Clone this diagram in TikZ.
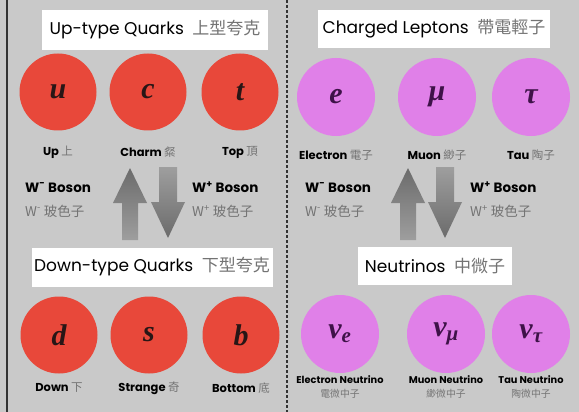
\documentclass[tikz,border=0pt]{standalone}
\usepackage{fontspec}
\setmainfont{Poppins}
\newfontfamily\cjk{Noto Sans CJK TC}
\newfontfamily\symfont{Liberation Serif}
\definecolor{bggray}{RGB}{201,201,201}
\definecolor{quarkred}{RGB}{232,72,58}
\definecolor{leptonpink}{RGB}{224,128,232}
\definecolor{quarkink}{RGB}{40,22,22}
\definecolor{leptonink}{RGB}{62,18,72}
\newcommand{\zh}[1]{{\cjk\mdseries\color{black!55}#1}}
\begin{document}
\begin{tikzpicture}[x=1pt, y=-1pt,
    quark/.style={circle, fill=quarkred, minimum size=77pt, inner sep=0pt, text=quarkink,
      font=\symfont\bfseries\itshape\fontsize{30}{30}\selectfont},
    lepton/.style={circle, fill=leptonpink, minimum size=78pt, inner sep=0pt, text=leptonink,
      font=\symfont\bfseries\itshape\fontsize{30}{30}\selectfont},
    caption/.style={font=\bfseries\fontsize{11.5}{14}\selectfont, align=center, inner sep=0pt},
    nucaption/.style={caption, font=\bfseries\fontsize{9.8}{14}\selectfont},
    titlebox/.style={fill=white, inner sep=0pt, font=\fontsize{17}{20}\selectfont},
    boson/.style={anchor=west, align=left, inner sep=0pt, font=\bfseries\fontsize{13.5}{24}\selectfont},
    wshade/.style={top color=black!58, bottom color=black!38}]
  \useasboundingbox (0,0) rectangle (579,412);
  \fill[bggray] (0,0) rectangle (579,412);
  \fill[black!80] (6,0) rectangle (8,412);
  \draw[black!80, line width=1.2pt, dash pattern=on 3pt off 2pt] (287,0) -- (287,412);

  % family headers
  \node[titlebox, minimum width=226pt, minimum height=40pt] (uphead) at (155,30)
    {Up-type Quarks\enspace\zh{上型夸克}};
  \node[titlebox, minimum width=232pt, minimum height=38pt] (lephead) at (434,29)
    {Charged Leptons\enspace\zh{帶電輕子}};
  \node[titlebox, minimum width=241pt, minimum height=39pt] (downhead) at (152,267)
    {Down-type Quarks\enspace\zh{下型夸克}};
  \node[titlebox, minimum width=154pt, minimum height=38pt] (nuhead) at (435,266)
    {Neutrinos\enspace\zh{中微子}};

  % quarks
  \foreach \name/\x/\y/\ly/\sym/\lab in {
      up/58/92/152/u/{Up \zh{上}},
      charm/148/92/152/c/{Charm \zh{粲}},
      top/240/92/152/t/{Top \zh{頂}},
      down/59/335/388/d/{Down \zh{下}},
      strange/149/335/388/s/{Strange \zh{奇}},
      bottom/241/335/388/b/{Bottom \zh{底}}} {
    \node[quark] (\name) at (\x,\y) {\sym};
    \node[caption] (\name-lab) at (\x,\ly) {\lab};
  }

  % charged leptons
  \foreach \name/\x/\sym/\lab in {
      electron/336/e/{Electron \zh{電子}},
      muon/437/μ/{Muon \zh{緲子}},
      tau/531/τ/{Tau \zh{陶子}}} {
    \node[lepton] (\name) at (\x,97) {\sym};
    \node[caption] (\name-lab) at (\x,155) {\lab};
  }

  % neutrinos
  \foreach \name/\x/\sub/\lab in {
      nue/340/e/{Electron Neutrino\\\zh{電微中子}},
      numu/446/μ/{Muon Neutrino\\\zh{緲微中子}},
      nutau/531/τ/{Tau Neutrino\\\zh{陶微中子}}} {
    \node[lepton] (\name) at (\x,334) {ν\textsubscript{\sub}};
    \node[nucaption] (\name-lab) at (\x,387) {\lab};
  }

  % W bosons
  \node[boson] (wqminus) at (25,200) {W\textsuperscript{-} Boson\\\zh{W\textsuperscript{-} 玻色子}};
  \node[boson] (wqplus) at (192,200) {W\textsuperscript{+} Boson\\\zh{W\textsuperscript{+} 玻色子}};
  \node[boson] (wlminus) at (305,200) {W\textsuperscript{-} Boson\\\zh{W\textsuperscript{-} 玻色子}};
  \node[boson] (wlplus) at (470,200) {W\textsuperscript{+} Boson\\\zh{W\textsuperscript{+} 玻色子}};

  % up and down arrows between the families
  \foreach \ux/\dx in {130/168, 408/445} {
    \shade[wshade] (\ux,168) -- (\ux+17,203) -- (\ux+8,203) -- (\ux+8,240)
      -- (\ux-8,240) -- (\ux-8,203) -- (\ux-17,203) -- cycle;
    \shade[top color=black!38, bottom color=black!58] (\dx,238) -- (\dx+17,202) -- (\dx+9,202)
      -- (\dx+9,167) -- (\dx-9,167) -- (\dx-9,202) -- (\dx-17,202) -- cycle;
  }
\end{tikzpicture}
\end{document}
